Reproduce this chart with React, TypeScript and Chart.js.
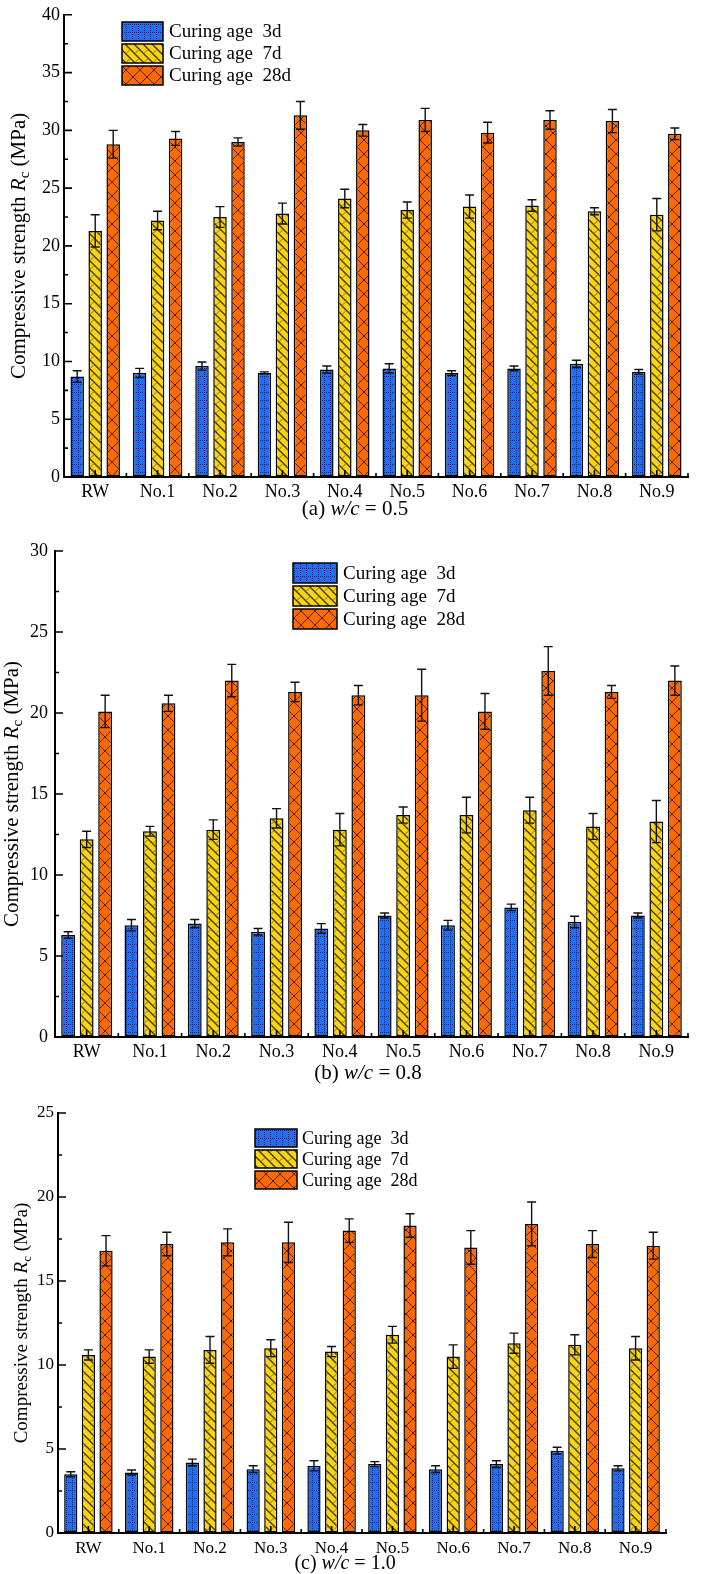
import React, { useEffect, useRef } from 'react';
import { Chart, registerables } from 'chart.js';
Chart.register(...registerables);

const FONT = "'Liberation Serif', 'Times New Roman', serif";

const categories = ['RW', 'No.1', 'No.2', 'No.3', 'No.4', 'No.5', 'No.6', 'No.7', 'No.8', 'No.9'];
const seriesNames = ['Curing age  3d', 'Curing age  7d', 'Curing age  28d'];

// (a) w/c = 0.5
const a3d = [8.7, 9.0, 9.6, 9.0, 9.3, 9.4, 9.0, 9.4, 9.8, 9.1];
const a3dErr = [0.5, 0.4, 0.35, 0.1, 0.3, 0.4, 0.2, 0.2, 0.3, 0.2];
const a7d = [21.3, 22.2, 22.5, 22.8, 24.1, 23.1, 23.4, 23.5, 23.0, 22.7];
const a7dErr = [1.4, 0.8, 0.9, 0.9, 0.8, 0.7, 1.0, 0.5, 0.3, 1.4];
const a28d = [28.8, 29.3, 29.0, 31.3, 30.0, 30.9, 29.8, 30.9, 30.8, 29.7];
const a28dErr = [1.2, 0.6, 0.35, 1.2, 0.5, 1.0, 0.9, 0.8, 1.0, 0.5];

// (b) w/c = 0.8
const b3d = [6.3, 6.9, 7.0, 6.5, 6.7, 7.5, 6.9, 8.0, 7.1, 7.5];
const b3dErr = [0.2, 0.35, 0.25, 0.2, 0.3, 0.15, 0.3, 0.2, 0.35, 0.15];
const b7d = [12.2, 12.7, 12.8, 13.5, 12.8, 13.7, 13.7, 14.0, 13.0, 13.3];
const b7dErr = [0.5, 0.3, 0.6, 0.6, 1.0, 0.5, 1.1, 0.8, 0.8, 1.3];
const b28d = [20.1, 20.6, 22.0, 21.3, 21.1, 21.1, 20.1, 22.6, 21.3, 22.0];
const b28dErr = [1.0, 0.5, 1.0, 0.6, 0.6, 1.6, 1.1, 1.5, 0.4, 0.9];

// (c) w/c = 1.0
const c3d = [3.5, 3.6, 4.2, 3.8, 4.0, 4.1, 3.8, 4.1, 4.9, 3.85];
const c3dErr = [0.15, 0.15, 0.2, 0.2, 0.3, 0.15, 0.2, 0.2, 0.2, 0.15];
const c7d = [10.6, 10.5, 10.9, 11.0, 10.8, 11.8, 10.5, 11.3, 11.2, 11.0];
const c7dErr = [0.3, 0.4, 0.8, 0.5, 0.3, 0.5, 0.7, 0.6, 0.6, 0.7];
const c28d = [16.8, 17.2, 17.3, 17.3, 18.0, 18.3, 17.0, 18.4, 17.2, 17.1];
const c28dErr = [0.9, 0.7, 0.8, 1.2, 0.7, 0.7, 1.0, 1.3, 0.8, 0.8];

function tile(ctx: CanvasRenderingContext2D, w: number, h: number, draw: (g: CanvasRenderingContext2D) => void) {
  const c = document.createElement('canvas');
  c.width = w;
  c.height = h;
  const g = c.getContext('2d')!;
  draw(g);
  return ctx.createPattern(c, 'repeat')!;
}

function bluePattern(ctx: CanvasRenderingContext2D) {
  return tile(ctx, 6, 8, (g) => {
    g.fillStyle = '#1f6ff2';
    g.fillRect(0, 0, 6, 8);
    g.fillStyle = '#0a2670';
    for (let i = 0; i < 6; i += 2) g.fillRect(i, 0, 1, 1);
    for (let i = 0; i < 8; i += 2) g.fillRect(0, i, 1, 1);
  });
}

function yellowPattern(ctx: CanvasRenderingContext2D) {
  return tile(ctx, 9, 9, (g) => {
    g.fillStyle = '#f8d50f';
    g.fillRect(0, 0, 9, 9);
    g.strokeStyle = '#3f3300';
    g.lineWidth = 1.3;
    g.beginPath();
    for (const o of [-9, 0, 9]) {
      g.moveTo(o - 1, -1);
      g.lineTo(o + 10, 10);
    }
    g.stroke();
    g.strokeStyle = 'rgba(70,55,0,0.7)';
    g.lineWidth = 0.9;
    g.beginPath();
    g.moveTo(0.5, 8);
    g.lineTo(3.5, 5);
    g.stroke();
  });
}

function orangePattern(ctx: CanvasRenderingContext2D) {
  return tile(ctx, 14, 14, (g) => {
    g.fillStyle = '#ff6a00';
    g.fillRect(0, 0, 14, 14);
    g.strokeStyle = '#3a1800';
    g.lineWidth = 0.9;
    g.beginPath();
    g.moveTo(-1, -1);
    g.lineTo(15, 15);
    g.moveTo(15, -1);
    g.lineTo(-1, 15);
    g.stroke();
  });
}

type PanelProps = {
  top: number;
  height: number;
  left: number;
  right: number;
  areaTop: number;
  areaBottom: number;
  yMax: number;
  values: number[][];
  errors: number[][];
  catPct: number;
  barPct: number;
  legendX: number;
  legendY: number;
  legendW: number;
  legendH: number;
  legendPitch: number;
  legendTextX: number;
  legendSize: number;
  fontSize: number;
  titleSize: number;
  titleX: number;
  captionSize: number;
  captionTag: string;
  captionValue: string;
  captionX: number;
  captionY: number;
  labelPad: number;
  yLabelPad: number;
};

function Panel(p: PanelProps) {
  const ref = useRef<HTMLCanvasElement>(null);
  useEffect(() => {
    const canvas = ref.current!;
    const ctx0 = canvas.getContext('2d')!;
    const pats = [bluePattern(ctx0), yellowPattern(ctx0), orangePattern(ctx0)];

    const deco = {
      id: 'deco',
      afterDatasetsDraw(chart: any) {
        const ctx: CanvasRenderingContext2D = chart.ctx;
        const ys = chart.scales.y;
        ctx.save();
        ctx.strokeStyle = '#111';
        ctx.lineWidth = 1.4;
        const cap = 4.5;
        p.values.forEach((vals, i) => {
          const meta = chart.getDatasetMeta(i);
          meta.data.forEach((el: any, j: number) => {
            const v = vals[j];
            const e = p.errors[i][j];
            const x = el.x;
            const yt = ys.getPixelForValue(v + e);
            const yb = ys.getPixelForValue(v - e);
            ctx.beginPath();
            ctx.moveTo(x, yt);
            ctx.lineTo(x, yb);
            ctx.moveTo(x - cap, yt);
            ctx.lineTo(x + cap, yt);
            ctx.moveTo(x - cap, yb);
            ctx.lineTo(x + cap, yb);
            ctx.stroke();
          });
        });
        ctx.restore();
      },
      afterDraw(chart: any) {
        const ctx: CanvasRenderingContext2D = chart.ctx;
        const xs = chart.scales.x;
        const ys = chart.scales.y;
        const area = chart.chartArea;
        ctx.save();
        ctx.strokeStyle = '#000';
        ctx.lineWidth = 1.6;
        ctx.beginPath();
        for (let v = 0; v <= p.yMax + 1e-9; v += 5) {
          const y = ys.getPixelForValue(v);
          ctx.moveTo(area.left, y);
          ctx.lineTo(area.left + 8, y);
          if (v + 2.5 <= p.yMax) {
            const ym = ys.getPixelForValue(v + 2.5);
            ctx.moveTo(area.left, ym);
            ctx.lineTo(area.left + 4, ym);
          }
        }
        const n = categories.length;
        for (let i = 0; i < n; i++) {
          const x = xs.getPixelForValue(i);
          ctx.moveTo(x, area.bottom);
          ctx.lineTo(x, area.bottom - 7);
        }
        for (let i = 0; i <= n; i++) {
          let x;
          if (i === 0) x = area.left;
          else if (i === n) x = area.right;
          else x = (xs.getPixelForValue(i - 1) + xs.getPixelForValue(i)) / 2;
          ctx.moveTo(x, area.bottom);
          ctx.lineTo(x, area.bottom - 4);
        }
        ctx.stroke();

        // legend
        ctx.textBaseline = 'middle';
        ctx.textAlign = 'left';
        ctx.font = `${p.legendSize}px ${FONT}`;
        seriesNames.forEach((name, i) => {
          const by = p.legendY + i * p.legendPitch;
          ctx.fillStyle = pats[i];
          ctx.fillRect(p.legendX, by, p.legendW, p.legendH);
          ctx.lineWidth = 1.5;
          ctx.strokeStyle = '#000';
          ctx.strokeRect(p.legendX, by, p.legendW, p.legendH);
          ctx.fillStyle = '#000';
          ctx.fillText(name, p.legendTextX, by + p.legendH / 2 + 1);
        });

        // y title
        const ts = p.titleSize;
        const parts: [string, string, number][] = [
          ['Compressive strength ', `${ts}px ${FONT}`, 0],
          ['R', `italic ${ts}px ${FONT}`, 0],
          ['c', `${Math.round(ts * 0.7)}px ${FONT}`, ts * 0.28],
          [' (MPa)', `${ts}px ${FONT}`, 0],
        ];
        let total = 0;
        parts.forEach(([t, f]) => {
          ctx.font = f;
          total += ctx.measureText(t).width;
        });
        ctx.save();
        ctx.translate(p.titleX, (area.top + area.bottom) / 2);
        ctx.rotate(-Math.PI / 2);
        let cx = -total / 2;
        ctx.fillStyle = '#000';
        parts.forEach(([t, f, dy]) => {
          ctx.font = f;
          ctx.fillText(t, cx, dy);
          cx += ctx.measureText(t).width;
        });
        ctx.restore();

        // caption
        const cs = p.captionSize;
        const cparts: [string, string][] = [
          [`(${p.captionTag}) `, `${cs}px ${FONT}`],
          ['w/c', `italic ${cs}px ${FONT}`],
          [` = ${p.captionValue}`, `${cs}px ${FONT}`],
        ];
        let ctotal = 0;
        cparts.forEach(([t, f]) => {
          ctx.font = f;
          ctotal += ctx.measureText(t).width;
        });
        let sx = p.captionX - ctotal / 2;
        ctx.fillStyle = '#000';
        cparts.forEach(([t, f]) => {
          ctx.font = f;
          ctx.fillText(t, sx, p.captionY);
          sx += ctx.measureText(t).width;
        });
        ctx.restore();
      },
    };

    const chart = new Chart(canvas, {
      type: 'bar',
      data: {
        labels: categories,
        datasets: p.values.map((v, i) => ({
          label: seriesNames[i],
          data: v,
          backgroundColor: pats[i] as any,
          borderColor: '#000',
          borderWidth: 1.5,
          borderSkipped: false,
          categoryPercentage: p.catPct,
          barPercentage: p.barPct,
        })),
      },
      options: {
        responsive: false,
        animation: false,
        devicePixelRatio: 1,
        layout: { padding: { top: p.areaTop, right: 703 - p.right, left: 0, bottom: 0 } },
        plugins: { legend: { display: false }, tooltip: { enabled: false } },
        scales: {
          x: {
            type: 'category',
            grid: { display: true, drawOnChartArea: false, drawTicks: false, color: 'rgba(0,0,0,0)' },
            border: { display: true, color: '#000', width: 2 },
            ticks: { color: '#000', font: { family: FONT, size: p.fontSize }, padding: p.labelPad, maxRotation: 0, autoSkip: false },
            afterFit: (s: any) => {
              s.height = p.height - p.areaBottom;
            },
          },
          y: {
            min: 0,
            max: p.yMax,
            grid: { display: true, drawOnChartArea: false, drawTicks: false, color: 'rgba(0,0,0,0)' },
            border: { display: true, color: '#000', width: 2 },
            ticks: { stepSize: 5, color: '#000', font: { family: FONT, size: p.fontSize }, padding: p.yLabelPad },
            afterFit: (s: any) => {
              s.width = p.left;
            },
          },
        },
      },
      plugins: [deco],
    } as any);
    return () => chart.destroy();
  }, []);
  return (
    <canvas
      ref={ref}
      width={703}
      height={p.height}
      style={{ position: 'absolute', left: 0, top: p.top, width: 703, height: p.height }}
    />
  );
}

export default function App() {
  return (
    <div style={{ position: 'absolute', left: 0, top: 0, width: 703, height: 1574, background: '#fff' }}>
      <Panel
        top={0}
        height={520}
        left={64}
        right={688}
        areaTop={7}
        areaBottom={477}
        yMax={40}
        values={[a3d, a7d, a28d]}
        errors={[a3dErr, a7dErr, a28dErr]}
        catPct={0.865}
        barPct={0.75}
        legendX={122}
        legendY={22}
        legendW={41}
        legendH={19}
        legendPitch={22}
        legendTextX={169}
        legendSize={19}
        fontSize={18}
        titleSize={21}
        titleX={19}
        captionSize={21}
        captionTag="a"
        captionValue="0.5"
        captionX={355}
        captionY={509}
        labelPad={4}
        yLabelPad={4}
      />
      <Panel
        top={520}
        height={570}
        left={55}
        right={688}
        areaTop={31}
        areaBottom={517}
        yMax={30}
        values={[b3d, b7d, b28d]}
        errors={[b3dErr, b7dErr, b28dErr]}
        catPct={0.877}
        barPct={0.75}
        legendX={293}
        legendY={43}
        legendW={44}
        legendH={20}
        legendPitch={23}
        legendTextX={343}
        legendSize={19}
        fontSize={18}
        titleSize={21}
        titleX={12}
        captionSize={21}
        captionTag="b"
        captionValue="0.8"
        captionX={368}
        captionY={553}
        labelPad={4}
        yLabelPad={7}
      />
      <Panel
        top={1090}
        height={484}
        left={58}
        right={666}
        areaTop={23}
        areaBottom={443}
        yMax={25}
        values={[c3d, c7d, c28d]}
        errors={[c3dErr, c7dErr, c28dErr]}
        catPct={0.87}
        barPct={0.75}
        legendX={255}
        legendY={39}
        legendW={42}
        legendH={18}
        legendPitch={21}
        legendTextX={302}
        legendSize={18}
        fontSize={17}
        titleSize={19}
        titleX={22}
        captionSize={20}
        captionTag="c"
        captionValue="1.0"
        captionX={345}
        captionY={474}
        labelPad={5}
        yLabelPad={4}
      />
    </div>
  );
}
